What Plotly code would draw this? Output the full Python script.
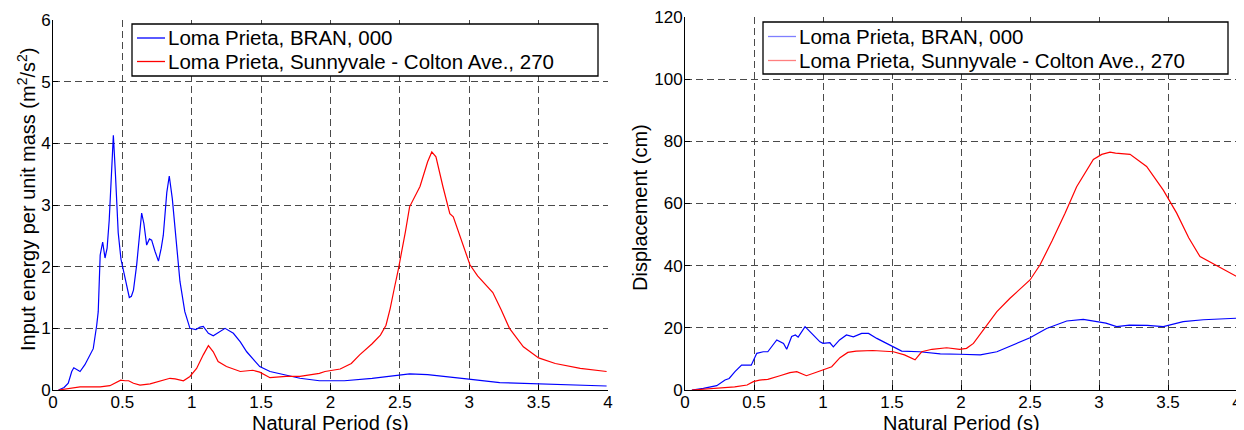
import plotly.graph_objects as go

# ---------------- data ----------------
tick_x = [0, 0.5, 1, 1.5, 2, 2.5, 3, 3.5, 4]
tick_x_text = ["0", "0.5", "1", "1.5", "2", "2.5", "3", "3.5", "4"]
tick_e = [0, 1, 2, 3, 4, 5, 6]
tick_d = [0, 20, 40, 60, 80, 100, 120]

name_bran = "Loma Prieta, BRAN, 000"
name_sunny = "Loma Prieta, Sunnyvale - Colton Ave., 270"

# Input energy per unit mass - BRAN
e_bran_T = [0.04, 0.08, 0.11, 0.135, 0.15, 0.17, 0.195, 0.23, 0.26, 0.28, 0.29, 0.315, 0.326,
            0.34, 0.358, 0.375, 0.39, 0.405, 0.42, 0.435, 0.45, 0.46, 0.47, 0.49, 0.51, 0.53,
            0.55, 0.565, 0.58, 0.603, 0.627, 0.639, 0.655, 0.675, 0.695, 0.711, 0.735, 0.76,
            0.78, 0.795, 0.82, 0.838, 0.86, 0.88, 0.915, 0.95, 0.987, 1.03, 1.06, 1.083, 1.12,
            1.155, 1.2, 1.24, 1.30, 1.35, 1.396, 1.45, 1.49, 1.564, 1.65, 1.78, 1.92, 2.0, 2.1,
            2.3, 2.5, 2.57, 2.7, 2.84, 2.98, 3.22, 3.51, 3.75, 3.99]
e_bran_E = [0.0, 0.04, 0.11, 0.30, 0.36, 0.33, 0.30, 0.41, 0.55, 0.65, 0.67, 1.05, 1.27,
            2.19, 2.40, 2.14, 2.30, 2.75, 3.55, 4.13, 3.50, 3.00, 2.55, 2.12, 1.92, 1.68,
            1.50, 1.52, 1.62, 2.03, 2.68, 2.87, 2.70, 2.35, 2.45, 2.43, 2.25, 2.09,
            2.30, 2.51, 3.20, 3.47, 3.10, 2.57, 1.76, 1.27, 1.00, 0.98, 1.02, 1.03, 0.92,
            0.88, 0.95, 1.00, 0.92, 0.78, 0.62, 0.48, 0.38, 0.30, 0.26, 0.19, 0.15, 0.15, 0.15,
            0.19, 0.25, 0.26, 0.25, 0.22, 0.18, 0.12, 0.10, 0.09, 0.065]

# Input energy per unit mass - Sunnyvale
e_sunny_T = [0.04, 0.1, 0.195, 0.25, 0.34, 0.41, 0.44, 0.465, 0.488, 0.52, 0.545, 0.58, 0.627,
             0.70, 0.75, 0.80, 0.843, 0.88, 0.94, 0.987, 1.035, 1.083, 1.12, 1.155, 1.19, 1.25,
             1.30, 1.35, 1.44, 1.49, 1.564, 1.62, 1.68, 1.78, 1.85, 1.92, 1.96, 2.07, 2.15, 2.21,
             2.30, 2.36, 2.40, 2.43, 2.46, 2.49, 2.54, 2.57, 2.645, 2.70, 2.73, 2.76, 2.81, 2.86,
             2.885, 2.95, 3.005, 3.06, 3.125, 3.17, 3.23, 3.29, 3.39, 3.50, 3.62, 3.80, 3.99]
e_sunny_E = [0.0, 0.02, 0.05, 0.05, 0.05, 0.07, 0.11, 0.13, 0.16, 0.15, 0.15, 0.11, 0.08,
             0.10, 0.13, 0.17, 0.19, 0.18, 0.15, 0.22, 0.35, 0.57, 0.72, 0.62, 0.46, 0.38,
             0.34, 0.30, 0.32, 0.29, 0.20, 0.21, 0.22, 0.22, 0.24, 0.27, 0.30, 0.34, 0.43, 0.57,
             0.75, 0.89, 1.05, 1.32, 1.65, 1.97, 2.57, 2.97, 3.30, 3.70, 3.86, 3.78, 3.30, 2.86,
             2.81, 2.40, 2.03, 1.85, 1.70, 1.58, 1.30, 1.00, 0.70, 0.52, 0.43, 0.35, 0.30]

# Displacement - BRAN
d_bran_T = [0.05, 0.133, 0.23, 0.29, 0.32, 0.362, 0.41, 0.48, 0.52, 0.567, 0.60, 0.665, 0.714,
            0.737, 0.773, 0.80, 0.82, 0.87, 0.918, 0.978, 1.0, 1.05, 1.075, 1.12, 1.17, 1.22,
            1.28, 1.33, 1.39, 1.437, 1.497, 1.57, 1.70, 1.85, 1.99, 2.14, 2.26, 2.38, 2.50,
            2.62, 2.766, 2.886, 2.98, 3.05, 3.128, 3.22, 3.35, 3.466, 3.61, 3.756, 3.998]
d_bran_D = [0.0, 0.5, 1.4, 3.2, 3.7, 5.9, 8.0, 8.0, 11.8, 12.3, 12.3, 16.1, 15.0,
            13.1, 17.2, 17.7, 17.0, 20.4, 18.2, 15.5, 15.0, 15.2, 13.9, 16.1, 17.7, 17.1,
            18.2, 18.2, 16.6, 15.5, 14.3, 12.5, 12.3, 11.6, 11.5, 11.3, 12.3, 14.5, 16.8,
            19.8, 22.2, 22.7, 22.0, 21.5, 20.4, 20.9, 20.8, 20.4, 22.0, 22.6, 23.1]

# Displacement - Sunnyvale
d_sunny_T = [0.05, 0.15, 0.265, 0.36, 0.45, 0.495, 0.54, 0.60, 0.688, 0.76, 0.81, 0.88, 0.952,
             1.063, 1.123, 1.18, 1.24, 1.36, 1.51, 1.59, 1.667, 1.715, 1.79, 1.896, 1.99, 2.04,
             2.09, 2.26, 2.355, 2.50, 2.572, 2.66, 2.754, 2.838, 2.959, 3.02, 3.08, 3.12, 3.225,
             3.345, 3.466, 3.563, 3.65, 3.732, 3.998]
d_sunny_D = [0.0, 0.3, 0.7, 1.0, 1.6, 2.7, 3.2, 3.4, 4.6, 5.6, 5.9, 4.6, 5.7,
             7.5, 10.4, 12.1, 12.5, 12.7, 12.3, 11.3, 9.7, 12.3, 13.1, 13.6, 13.1, 13.4,
             15.0, 25.2, 29.5, 35.4, 40.2, 48.0, 56.9, 65.4, 74.2, 75.8, 76.5, 76.2, 75.8,
             71.9, 64.3, 56.9, 49.0, 42.9, 36.5]

# ---------------- figure ----------------
# The page body has an 8 px margin, so the figure is drawn 8 px in from the corner.
OFF = 8
W, H = 1244 - OFF, 430 - OFF
FONT = "Liberation Sans, Arial, sans-serif"
BLUE, RED = "#0000ff", "#ff0000"
GRID = "#4a4a4a"
DASH = "7px,4px"


def px_x(p):
    return (p - OFF) / W


def px_y(p):
    return 1 - (p - OFF) / H


fig = go.Figure()
fig.add_trace(go.Scatter(x=e_bran_T, y=e_bran_E, mode="lines", name=name_bran,
                         line=dict(color=BLUE, width=1.2), xaxis="x", yaxis="y"))
fig.add_trace(go.Scatter(x=e_sunny_T, y=e_sunny_E, mode="lines", name=name_sunny,
                         line=dict(color=RED, width=1.2), xaxis="x", yaxis="y"))
fig.add_trace(go.Scatter(x=d_bran_T, y=d_bran_D, mode="lines", name=name_bran,
                         line=dict(color=BLUE, width=1.2), xaxis="x2", yaxis="y2"))
fig.add_trace(go.Scatter(x=d_sunny_T, y=d_sunny_D, mode="lines", name=name_sunny,
                         line=dict(color=RED, width=1.2), xaxis="x2", yaxis="y2"))

common = dict(ticks="inside", ticklen=5, tickcolor="black", tickwidth=1,
              showline=True, linecolor="black", linewidth=1, automargin=False,
              showgrid=True, gridcolor=GRID, griddash=DASH, gridwidth=1,
              ticklabeloverflow="allow",
              zeroline=False, tickfont=dict(size=17, family=FONT, color="black"))
mirror = dict(ticks="inside", ticklen=5, tickcolor="black", tickwidth=1, automargin=False,
              showline=False, showgrid=False, zeroline=False, showticklabels=False)

fig.update_layout(
    width=W, height=H,
    margin=dict(l=0, r=0, t=0, b=0, autoexpand=False),
    paper_bgcolor="white", plot_bgcolor="white",
    font=dict(family=FONT, color="black"),
    showlegend=False,
    xaxis=dict(domain=[px_x(53), px_x(608)], range=[0, 4], anchor="y",
               tickvals=tick_x, ticktext=tick_x_text, ticklabelstandoff=-3, **common),
    yaxis=dict(domain=[px_y(390), px_y(20)], range=[0, 6], anchor="x",
               tickvals=tick_e, ticklabelstandoff=-2, **common),
    xaxis2=dict(domain=[px_x(685), px_x(1237)], range=[0, 4], anchor="y2",
                tickvals=tick_x, ticktext=tick_x_text, ticklabelstandoff=-3, **common),
    yaxis2=dict(domain=[px_y(390), px_y(17)], range=[0, 120], anchor="x2",
                tickvals=tick_d, ticklabelstandoff=-2, **common),
    xaxis3=dict(overlaying="x", anchor="y", side="top", range=[0, 4], tickvals=tick_x, **mirror),
    yaxis3=dict(overlaying="y", anchor="x", side="right", range=[0, 6], tickvals=tick_e, **mirror),
    xaxis4=dict(overlaying="x2", anchor="y2", side="top", range=[0, 4], tickvals=tick_x, **mirror),
    yaxis4=dict(overlaying="y2", anchor="x2", side="right", range=[0, 120], tickvals=tick_d, **mirror),
)

# ---- legends (boxed, two entries each) ----
def add_legend(box, line_x, rows, text_x, colors):
    x0, y0, x1, y1 = box
    fig.add_shape(type="rect", xref="paper", yref="paper",
                  x0=px_x(x0), x1=px_x(x1), y0=px_y(y1), y1=px_y(y0),
                  line=dict(color="black", width=1.3), fillcolor="white", layer="above")
    for ry, col, label in zip(rows, colors, [name_bran, name_sunny]):
        fig.add_shape(type="line", xref="paper", yref="paper",
                      x0=px_x(line_x[0]), x1=px_x(line_x[1]), y0=px_y(ry), y1=px_y(ry),
                      line=dict(color=col, width=1.3), layer="above")
        fig.add_annotation(text=label, x=px_x(text_x), y=px_y(ry), xref="paper", yref="paper",
                           xanchor="left", yanchor="middle", showarrow=False,
                           font=dict(size=20.5, family=FONT, color="black"))


add_legend((132, 24, 598, 76), (137, 165), (38, 61.5), 166, (BLUE, RED))
add_legend((763, 22, 1228, 74), (768, 796), (36.5, 60.5), 797, ("#7f7fff", "#ff7f7f"))

# ---- axis titles ----
title_font = dict(size=20, family=FONT, color="black")
fig.add_annotation(text="Natural Period (s)", x=px_x(330), y=px_y(423), xref="paper", yref="paper",
                   xanchor="center", yanchor="middle", showarrow=False, font=title_font)
fig.add_annotation(text="Natural Period (s)", x=px_x(961), y=px_y(423), xref="paper", yref="paper",
                   xanchor="center", yanchor="middle", showarrow=False, font=title_font)
fig.add_annotation(text="Input energy per unit mass (m<sup>2</sup>/s<sup>2</sup>)",
                   x=px_x(27), y=px_y(199), xref="paper", yref="paper", textangle=-90,
                   xanchor="center", yanchor="middle", showarrow=False, font=title_font)
fig.add_annotation(text="Displacement (cm)", x=px_x(640), y=px_y(208), xref="paper", yref="paper",
                   textangle=-90, xanchor="center", yanchor="middle", showarrow=False, font=title_font)

fig.write_html("out.html")
